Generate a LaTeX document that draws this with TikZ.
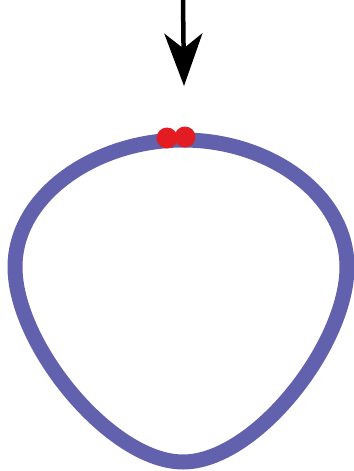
\documentclass[tikz,border=0pt]{standalone}
\definecolor{RingBlue}{RGB}{97,97,173}
\definecolor{DotRed}{RGB}{227,27,35}
\usetikzlibrary{arrows.meta}

\begin{document}
\begin{tikzpicture}[x=0.02cm,y=-0.02cm]
\useasboundingbox (0,0) rectangle (354,471);
% ring
\coordinate (top) at (183,140);
\coordinate (right) at (347,267);
\coordinate (bottom) at (183,462);
\coordinate (left) at (15,267);
\draw[RingBlue,line width=0.3cm]
  (top) .. controls (270,140) and (347,195) .. (right)
  .. controls (347,345) and (255,462) .. (bottom)
  .. controls (111,462) and (15,345) .. (left)
  .. controls (15,195) and (96,140) .. (top) -- cycle;
% pushing arrow
\coordinate (from) at (183,0);
\coordinate (tip) at (184,86);
\draw[line width=0.09cm,-{Stealth[length=1.05cm,width=0.76cm,inset=0.3cm]}] (from) -- (tip);
% the two spots
\fill[DotRed] (167,138) circle(10.5);
\fill[DotRed] (185,137) circle(10.5);
\end{tikzpicture}
\end{document}
